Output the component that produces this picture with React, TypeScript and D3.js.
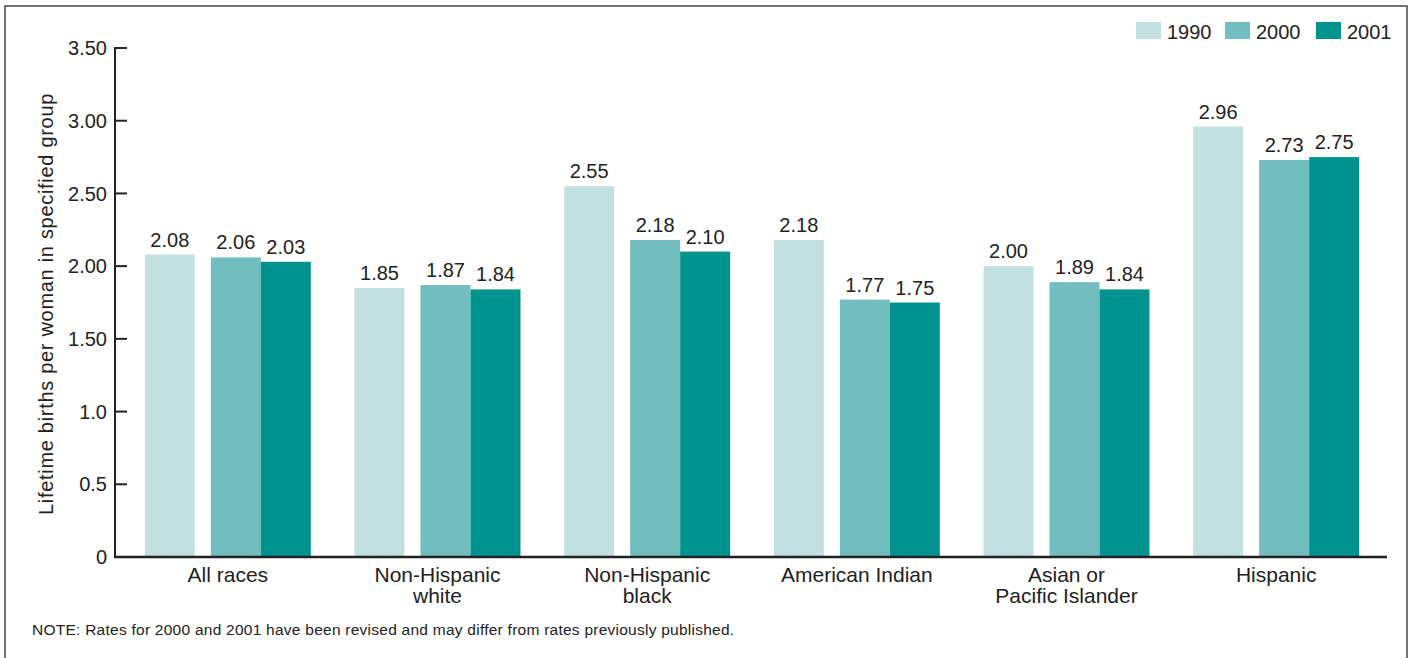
import React from "react";
import * as d3 from "d3";

const categories = [
  ["All races"],
  ["Non-Hispanic", "white"],
  ["Non-Hispanic", "black"],
  ["American Indian"],
  ["Asian or", "Pacific Islander"],
  ["Hispanic"],
];
const years = ["1990", "2000", "2001"];
const values1990 = [2.08, 1.85, 2.55, 2.18, 2.0, 2.96];
const values2000 = [2.06, 1.87, 2.18, 1.77, 1.89, 2.73];
const values2001 = [2.03, 1.84, 2.1, 1.75, 1.84, 2.75];
const tickValues = [0, 0.5, 1.0, 1.5, 2.0, 2.5, 3.0, 3.5];
const tickLabels = ["0", "0.5", "1.0", "1.50", "2.00", "2.50", "3.00", "3.50"];
const yTitle = "Lifetime births per woman in specified group";
const note =
  "NOTE: Rates for 2000 and 2001 have been revised and may differ from rates previously published.";

const colors = ["#c3e0e0", "#72bdbf", "#00938e"];
const FONT = "'Liberation Sans', Arial, Helvetica, sans-serif";

export default function App() {
  const W = 1416;
  const H = 658;
  const axisX = 115;
  const baseY = 557;
  const y = d3.scaleLinear().domain([0, 3.5]).range([baseY, 48]);
  const catKeys = categories.map((c) => c.join(" "));
  const x = d3.scaleBand().domain(catKeys).range([123, 1381]).padding(0);
  const offsets = d3.scaleOrdinal<string, number>().domain(years).range([-83, -17, 33]);
  const barW = 50;
  const series = [values1990, values2000, values2001];
  const colorScale = d3.scaleOrdinal<string, string>().domain(years).range(colors);

  const legendX = [1136, 1225, 1316];

  return (
    <svg
      width={W}
      height={H}
      style={{ position: "absolute", left: 0, top: 0, background: "#fff" }}
      fontFamily={FONT}
    >
      <rect x={5} y={6} width={1402} height={H + 10} fill="#fff" stroke="#444" strokeWidth={1.5} />

      {/* bars */}
      {series.map((vals, si) =>
        vals.map((v, ci) => {
          const cx = (x(catKeys[ci]) as number) + x.bandwidth() / 2;
          const bx = cx + offsets(years[si]);
          return (
            <g key={`${si}-${ci}`}>
              <rect
                x={bx}
                y={y(v)}
                width={barW}
                height={baseY - y(v)}
                fill={colorScale(years[si])}
              />
              <text
                x={bx + barW / 2}
                y={y(v) - 8}
                textAnchor="middle"
                fontSize={20}
                fill="#222"
              >
                {v.toFixed(2)}
              </text>
            </g>
          );
        })
      )}

      {/* y axis */}
      <line x1={axisX} x2={axisX} y1={y(3.5) - 1} y2={baseY + 1} stroke="#222" strokeWidth={2} />
      {tickValues.map((t, i) => (
        <g key={t}>
          <line x1={axisX} x2={axisX + 12} y1={y(t)} y2={y(t)} stroke="#222" strokeWidth={2} />
          <text x={107} y={y(t)} dy="0.36em" textAnchor="end" fontSize={20} fill="#222">
            {tickLabels[i]}
          </text>
        </g>
      ))}
      <line x1={axisX - 1} x2={1387} y1={baseY} y2={baseY} stroke="#222" strokeWidth={2.5} />

      {/* category labels */}
      {categories.map((lines, ci) => {
        const cx = (x(catKeys[ci]) as number) + x.bandwidth() / 2;
        return (
          <text key={ci} x={cx} y={582} textAnchor="middle" fontSize={21} fill="#222">
            {lines.map((l, li) => (
              <tspan key={li} x={cx} dy={li === 0 ? 0 : 21}>
                {l}
              </tspan>
            ))}
          </text>
        );
      })}

      {/* y title */}
      <text
        transform={`translate(53, ${304}) rotate(-90)`}
        textAnchor="middle"
        fontSize={20}
        letterSpacing={0.7}
        fill="#222"
      >
        {yTitle}
      </text>

      {/* legend */}
      {years.map((yr, i) => (
        <g key={yr}>
          <rect x={legendX[i]} y={22} width={25} height={17} fill={colorScale(yr)} />
          <text x={legendX[i] + 31} y={39} fontSize={20} fill="#222">
            {yr}
          </text>
        </g>
      ))}

      {/* note */}
      <text x={32} y={635} fontSize={15.5} letterSpacing={0.25} fill="#222">
        {note}
      </text>
    </svg>
  );
}
